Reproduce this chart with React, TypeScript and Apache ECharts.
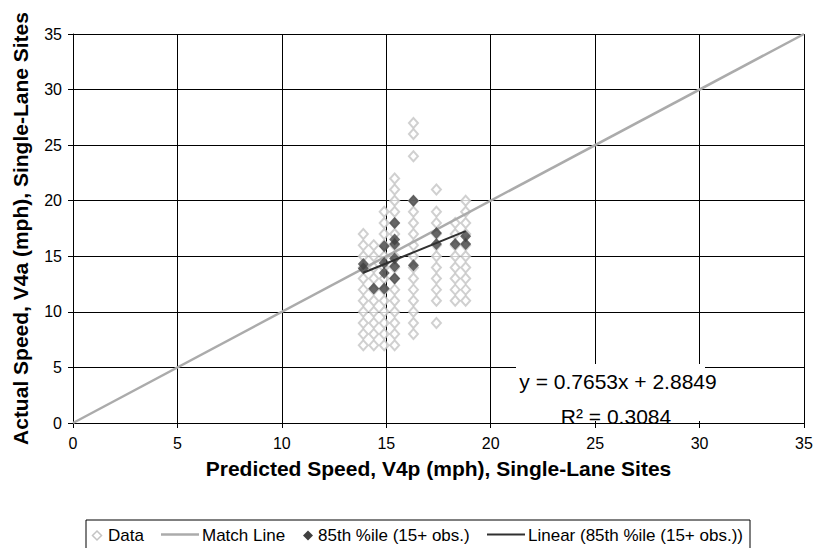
import React, { useEffect, useRef } from 'react';
import * as echarts from 'echarts';

// ---- Data ----
const dataColumnsX = [13.9, 14.4, 14.9, 15.4, 16.3, 17.4, 18.3, 18.8];
const dataColumnsY = [
  [7, 8, 9, 10, 11, 12, 13, 14, 15, 16, 17],
  [7, 8, 9, 10, 11, 12, 13, 14, 15, 16],
  [7, 8, 9, 10, 11, 12, 13, 14, 15, 16, 17, 18, 19],
  [7, 8, 9, 10, 11, 12, 13, 14, 15, 16, 17, 18, 19, 20, 21, 22],
  [8, 9, 10, 11, 12, 13, 14, 15, 16, 17, 18, 19, 20, 24, 26, 27],
  [9, 11, 12, 13, 14, 15, 16, 17, 18, 19, 21],
  [11, 12, 13, 14, 15, 16, 17, 18],
  [11, 12, 13, 14, 15, 16, 17, 18, 19, 20],
];

const p85X = [13.9, 13.9, 14.4, 14.9, 14.9, 14.9, 14.9, 15.4, 15.4, 15.4, 15.4, 15.4, 15.4, 16.3, 16.3, 17.4, 17.4, 18.3, 18.8, 18.8];
const p85Y = [14.3, 13.9, 12.1, 15.9, 14.4, 13.5, 12.1, 18.0, 16.5, 16.1, 14.8, 14.1, 13.0, 20.0, 14.2, 17.1, 16.1, 16.1, 16.8, 16.1];

const matchLineX = [0, 35];
const matchLineY = [0, 35];

const trendX = [13.9, 18.8];
const trendY = [13.52, 17.27];

const axisMin = 0;
const axisMax = 35;
const axisInterval = 5;

const xTitle = 'Predicted Speed, V4p (mph), Single-Lane Sites';
const yTitle = 'Actual Speed, V4a (mph), Single-Lane Sites';
const equationText = 'y = 0.7653x + 2.8849';
const r2Text = 'R² = 0.3084';
const legendNames = ['Data', 'Match Line', '85th %ile (15+ obs.)', 'Linear (85th %ile (15+ obs.))'];

const FONT = 'Liberation Sans, Arial, sans-serif';
const C_DATA = '#c4c4c4';
const C_MATCH = '#ababab';
const C_P85 = '#404040';
const C_LIN = '#303030';

export default function App() {
  const ref = useRef<HTMLDivElement>(null);

  useEffect(() => {
    document.body.style.margin = '0';
    if (!ref.current) return;
    const chart = echarts.init(ref.current, undefined, { renderer: 'svg' });

    const dataPoints: number[][] = [];
    dataColumnsX.forEach((x, i) => {
      dataColumnsY[i].forEach((y) => dataPoints.push([x, y]));
    });
    const p85Points = p85X.map((x, i) => [x, p85Y[i]]);
    const matchPoints = matchLineX.map((x, i) => [x, matchLineY[i]]);
    const trendPoints = trendX.map((x, i) => [x, trendY[i]]);

    const axisCommon = {
      type: 'value' as const,
      min: axisMin,
      max: axisMax,
      interval: axisInterval,
      nameLocation: 'middle' as const,
      nameTextStyle: { fontFamily: FONT, fontWeight: 'bold' as const, fontSize: 21, color: '#000' },
      axisLine: { show: true, onZero: false, lineStyle: { color: '#000', width: 1 } },
      axisTick: { show: true, inside: false, length: 5, lineStyle: { color: '#000', width: 1 } },
      splitLine: { show: true, lineStyle: { color: '#000', width: 1 } },
      axisLabel: { fontFamily: FONT, fontSize: 16, color: '#000' },
    };

    const ly = 535.5;
    const legendItems: any[] = [
      { type: 'rect', shape: { x: 86, y: 520, width: 664, height: 40 }, style: { fill: '#fff', stroke: '#000', lineWidth: 1 } },
      { type: 'polygon', shape: { points: [[97, ly - 4.5], [101.5, ly], [97, ly + 4.5], [92.5, ly]] }, style: { fill: '#fff', stroke: C_DATA, lineWidth: 1.5 } },
      { type: 'text', x: 108, y: ly, style: { text: legendNames[0], font: `17px ${FONT}`, fill: '#000', verticalAlign: 'middle', align: 'left' } },
      { type: 'line', shape: { x1: 161, y1: ly - 1, x2: 199, y2: ly - 1 }, style: { stroke: C_MATCH, lineWidth: 2.5 } },
      { type: 'text', x: 202, y: ly, style: { text: legendNames[1], font: `17px ${FONT}`, fill: '#000', verticalAlign: 'middle', align: 'left' } },
      { type: 'polygon', shape: { points: [[308, ly - 5], [313, ly], [308, ly + 5], [303, ly]] }, style: { fill: C_P85 } },
      { type: 'text', x: 318, y: ly, style: { text: legendNames[2], font: `17px ${FONT}`, fill: '#000', verticalAlign: 'middle', align: 'left' } },
      { type: 'line', shape: { x1: 487, y1: ly - 1, x2: 525, y2: ly - 1 }, style: { stroke: C_LIN, lineWidth: 2 } },
      { type: 'text', x: 528, y: ly, style: { text: legendNames[3], font: `17px ${FONT}`, fill: '#000', verticalAlign: 'middle', align: 'left' } },
    ];

    chart.setOption({
      animation: false,
      backgroundColor: '#fff',
      grid: { left: 73, right: 13, top: 34, bottom: 125, containLabel: false },
      xAxis: { ...axisCommon, name: xTitle, nameGap: 35, axisLabel: { ...axisCommon.axisLabel, margin: 12 } },
      yAxis: { ...axisCommon, name: yTitle, nameGap: 42, axisLabel: { ...axisCommon.axisLabel, margin: 11 } },
      series: [
        {
          name: legendNames[0],
          type: 'scatter',
          data: dataPoints,
          symbol: 'emptyDiamond',
          symbolSize: [9, 10],
          itemStyle: { color: C_DATA },
          z: 2,
        },
        {
          name: legendNames[1],
          type: 'line',
          data: matchPoints,
          symbol: 'none',
          lineStyle: { color: C_MATCH, width: 2.5 },
          z: 3,
        },
        {
          name: legendNames[2],
          type: 'scatter',
          data: p85Points,
          symbol: 'diamond',
          symbolSize: [11, 12],
          itemStyle: { color: C_P85 },
          z: 4,
        },
        {
          name: legendNames[3],
          type: 'line',
          data: trendPoints,
          symbol: 'none',
          lineStyle: { color: C_LIN, width: 2 },
          z: 5,
        },
      ],
      graphic: [
        { type: 'rect', z: 100, shape: { x: 516, y: 364, width: 189, height: 57 }, style: { fill: '#fff' } },
        { type: 'text', z: 101, x: 618, y: 391.5, style: { text: equationText, font: `21px ${FONT}`, fill: '#000', align: 'center', verticalAlign: 'bottom' } },
        { type: 'text', z: 101, x: 616, y: 427, style: { text: r2Text, font: `21px ${FONT}`, fill: '#000', align: 'center', verticalAlign: 'bottom' } },
        { type: 'group', z: 100, children: legendItems },
      ],
    });

    return () => chart.dispose();
  }, []);

  return <div ref={ref} style={{ width: 817, height: 548 }} />;
}
